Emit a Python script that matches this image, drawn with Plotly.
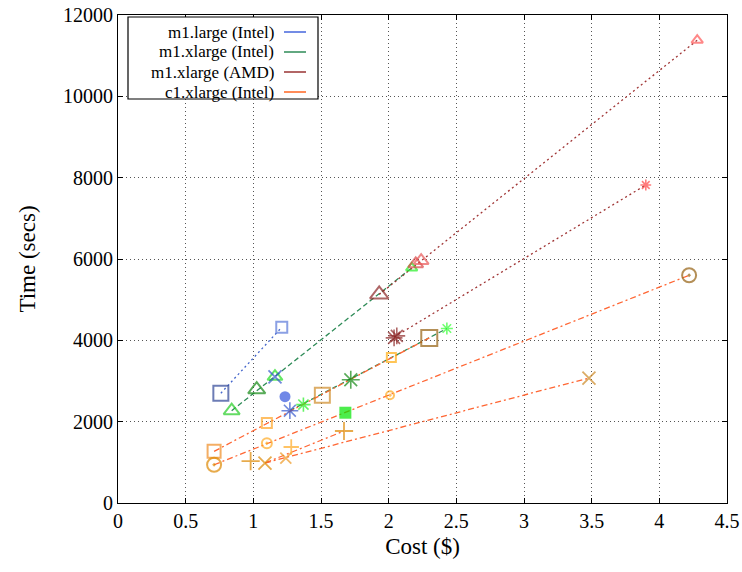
import plotly.graph_objects as go

# ---- data ----
# line series (endpoints)
line_blue_x = [0.76, 1.21]
line_blue_y = [2700, 4320]
line_green1_x = [0.84, 2.17]
line_green1_y = [2270, 5780]
line_green2_x = [1.27, 2.43]
line_green2_y = [2270, 4290]
line_red1_x = [1.93, 4.28]
line_red1_y = [5130, 11380]
line_red2_x = [2.04, 3.90]
line_red2_y = [4080, 7820]
line_or1_x = [0.71, 2.30]
line_or1_y = [1270, 4060]
line_or2_x = [0.71, 4.22]
line_or2_y = [940, 5600]
line_or3_x = [1.09, 1.67]
line_or3_y = [990, 1770]
line_or4_x = [1.086, 3.48]
line_or4_y = [983, 3073]

# point markers
sq_x = [0.76, 1.21, 0.71, 1.10, 2.02, 1.51, 2.30]
sq_y = [2700, 4320, 1270, 1970, 3580, 2650, 4060]
sq_c = ["#2e4596", "#5a78d8", "#f08c22", "#ffa424", "#ffac10", "#cf8a26", "#94600e"]
sq_s = [15, 11, 13, 10, 9, 15, 16]

sqf_x = [1.68]
sqf_y = [2220]

tri_x = [0.84, 1.025, 1.16, 1.93, 2.17, 2.20, 2.24, 4.28]
tri_y = [2270, 2790, 3110, 5130, 5780, 5880, 5960, 11380]
tri_c = ["#22cc22", "#118811", "#22dd22", "#8b2525", "#22ee22", "#d84444", "#e85555", "#ff5555"]
tri_s = [14, 15, 13, 16, 10, 13, 13, 10]

ast_x = [1.27, 1.37, 1.72, 2.04, 2.06, 2.43, 3.90]
ast_y = [2270, 2420, 3030, 4060, 4110, 4290, 7820]
ast_c = ["#3355cc", "#22ee22", "#118811", "#8b2525", "#8b2525", "#33ff33", "#ff4444"]
ast_s = [14, 12, 15, 14, 14, 10, 9]

circf_x = [1.234]
circf_y = [2614]

circ_x = [0.71, 1.10, 2.01, 4.22]
circ_y = [940, 1470, 2650, 5600]
circ_c = ["#dd8800", "#ffaa22", "#ffaa22", "#946010"]
circ_s = [14, 10, 8, 14]

x_x = [1.16, 1.086, 1.24, 3.48]
x_y = [3100, 983, 1106, 3073]
x_c = ["#3355cc", "#dd8800", "#ee9922", "#cc8822"]
x_s = [13, 13, 11, 13]

plus_x = [0.98, 1.28, 1.67]
plus_y = [1030, 1377, 1770]
plus_c = ["#dd8800", "#ffaa22", "#dd8800"]
plus_s = [13, 11, 13]

legend_labels = ["m1.large (Intel)", "m1.xlarge (Intel)", "m1.xlarge (AMD)", "c1.xlarge (Intel)"]
legend_colors = ["#4466dd", "#2e8b57", "#993333", "#ff6622"]

x_ticks = [0, 0.5, 1, 1.5, 2, 2.5, 3, 3.5, 4, 4.5]
x_tick_text = ["0", "0.5", "1", "1.5", "2", "2.5", "3", "3.5", "4", "4.5"]
y_ticks = [0, 2000, 4000, 6000, 8000, 10000, 12000]
y_tick_text = ["0", "2000", "4000", "6000", "8000", "10000", "12000"]

FONT = "Liberation Serif"

fig = go.Figure()

def add_line(xs, ys, color, dash):
    fig.add_trace(go.Scatter(x=xs, y=ys, mode="lines",
                             line=dict(color=color, width=1.3, dash=dash),
                             showlegend=False, hoverinfo="skip"))

add_line(line_blue_x, line_blue_y, "#4466cc", "2px,3px")
add_line(line_green1_x, line_green1_y, "#2e8b57", "5px,3px")
add_line(line_green2_x, line_green2_y, "#2e8b57", "5px,3px")
add_line(line_red1_x, line_red1_y, "#a03535", "2px,3px")
add_line(line_red2_x, line_red2_y, "#a03535", "2px,3px")
for lx, ly in [(line_or1_x, line_or1_y), (line_or2_x, line_or2_y),
               (line_or3_x, line_or3_y), (line_or4_x, line_or4_y)]:
    add_line(lx, ly, "#ff6633", "6px,3px,2px,3px")

def add_pts(xs, ys, colors, sizes, symbol, lw=2, filled=False):
    if filled:
        marker = dict(symbol=symbol, color=colors, size=sizes, line=dict(width=0))
    else:
        marker = dict(symbol=symbol, color=colors, size=sizes,
                      line=dict(color=colors, width=lw))
    fig.add_trace(go.Scatter(x=xs, y=ys, mode="markers", marker=marker,
                             showlegend=False))

add_pts(sq_x, sq_y, sq_c, sq_s, "square-open")
add_pts(sqf_x, sqf_y, ["#00e600"], [12], "square", filled=True)
add_pts(tri_x, tri_y, tri_c, tri_s, "triangle-up-open")
add_pts(ast_x, ast_y, ast_c, ast_s, "asterisk-open", lw=1.6)
add_pts(circf_x, circf_y, ["#3355dd"], [11], "circle", filled=True)
add_pts(circ_x, circ_y, circ_c, circ_s, "circle-open-dot")
add_pts(x_x, x_y, x_c, x_s, "x-thin-open", lw=1.8)
add_pts(plus_x, plus_y, plus_c, plus_s, "cross-thin-open", lw=1.8)

# ---- custom gnuplot-style legend (text then sample line) ----
W, H = 609, 488
def px_x(px):
    return (px - 118) / W
def px_y(py):
    return (503 - py) / H

shapes = [dict(type="rect", xref="paper", yref="paper",
               x0=px_x(128), x1=px_x(318), y0=px_y(99), y1=px_y(17),
               line=dict(color="black", width=1.2), fillcolor="white", layer="above")]
annotations = []
rows = [32, 52, 72, 92]
for lab, col, ry in zip(legend_labels, legend_colors, rows):
    annotations.append(dict(xref="paper", yref="paper", x=px_x(276), y=px_y(ry),
                            text=lab, showarrow=False, xanchor="right", yanchor="middle",
                            font=dict(family=FONT, size=17, color="black")))
    shapes.append(dict(type="line", xref="paper", yref="paper",
                       x0=px_x(284), x1=px_x(306), y0=px_y(ry), y1=px_y(ry),
                       line=dict(color=col, width=1.5), layer="above"))

fig.update_layout(
    width=742, height=572,
    margin=dict(l=118, r=15, t=15, b=69),
    plot_bgcolor="white", paper_bgcolor="white",
    font=dict(family=FONT, size=20, color="black"),
    shapes=shapes, annotations=annotations,
    showlegend=False,
)
fig.update_xaxes(range=[0, 4.5], tickvals=x_ticks, ticktext=x_tick_text,
                 tickfont=dict(family=FONT, size=20), automargin=False,
                 showline=True, linecolor="black", linewidth=1.2, mirror="ticks",
                 ticks="inside", ticklen=5, tickcolor="black",
                 showgrid=True, gridcolor="#555", griddash="1px,3px", gridwidth=1,
                 zeroline=False,
                 title=dict(text="Cost ($)", font=dict(family=FONT, size=23), standoff=6))
fig.update_yaxes(range=[0, 12000], tickvals=y_ticks, ticktext=y_tick_text,
                 tickfont=dict(family=FONT, size=20), automargin=False,
                 showline=True, linecolor="black", linewidth=1.2, mirror="ticks",
                 ticks="inside", ticklen=5, tickcolor="black",
                 showgrid=True, gridcolor="#555", griddash="1px,3px", gridwidth=1,
                 zeroline=False,
                 title=dict(text="Time (secs)", font=dict(family=FONT, size=23), standoff=20))

fig.write_html("out.html")
